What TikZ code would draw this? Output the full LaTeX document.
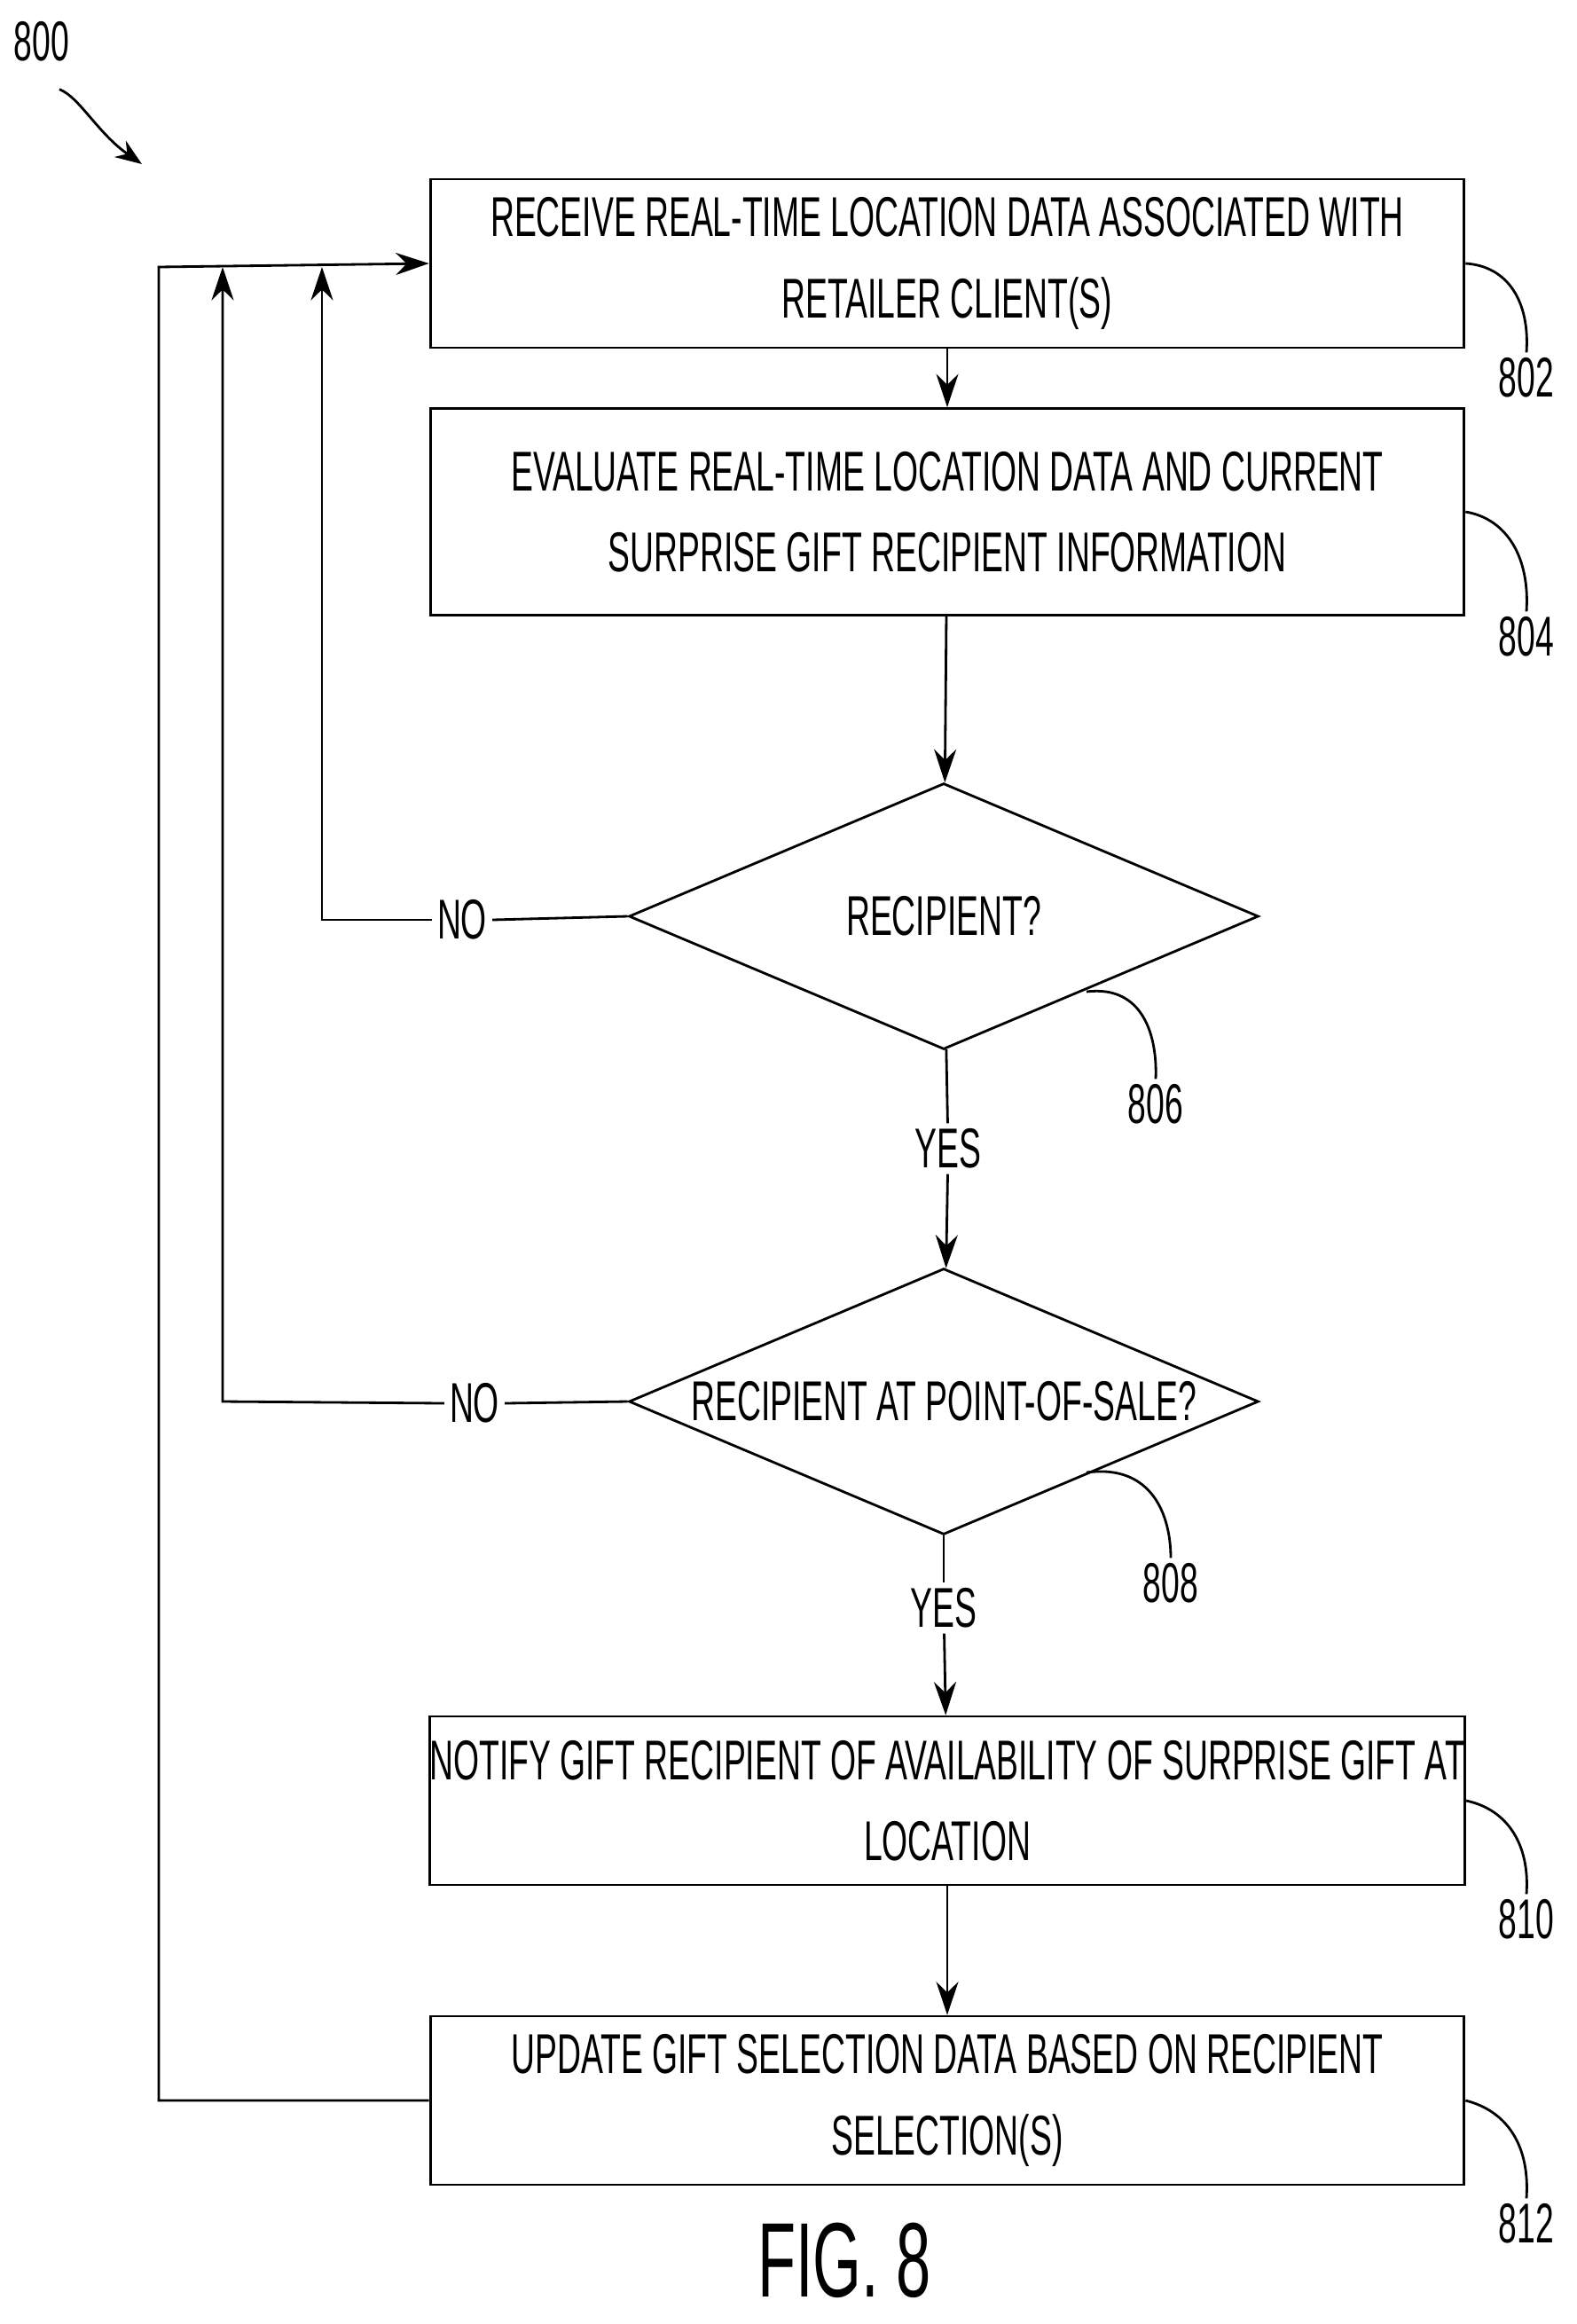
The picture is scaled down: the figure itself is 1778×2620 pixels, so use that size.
\documentclass[tikz,border=0pt]{standalone}
\usepackage{fontspec}
\setmainfont{Liberation Sans}[FakeStretch=0.59]
\usetikzlibrary{arrows.meta,shapes.geometric}
\tikzset{
  process/.style={draw, line width=1.6pt, minimum width=23.32cm, minimum height=3.8cm, inner xsep=0pt, align=center, font=\fontsize{36}{52}\selectfont},
  decision/.style={draw, line width=1.6pt, diamond, aspect=2.37, minimum width=14.2cm, minimum height=6cm, inner sep=0pt, font=\fontsize{36}{52}\selectfont},
  lbl/.style={font=\fontsize{36}{44}\selectfont},
  flow/.style={line width=1.6pt, -{Stealth[length=0.75cm, width=0.5cm]}},
  lead/.style={line width=1.6pt}
}
\begin{document}
\begin{tikzpicture}[x=0.02cm, y=-0.02cm]
        \useasboundingbox (0,0) rectangle (1778,2620);

        \node (fig) [lbl] at (47,47) {800};
        \node (receive) [process] at (1068,297) {RECEIVE REAL-TIME LOCATION DATA ASSOCIATED WITH\\RETAILER CLIENT(S)};
        \node (evaluate) [process, minimum height=4.66cm] at (1068,577) {EVALUATE REAL-TIME LOCATION DATA AND CURRENT\\SURPRISE GIFT RECIPIENT INFORMATION};
        \node (recipient) [decision] at (1064,1033) {RECIPIENT?};
        \node (pos) [decision] at (1064,1580) {\makebox[0pt]{RECIPIENT AT POINT-OF-SALE?}};
        \node (notify) [process] at (1068,2030) {NOTIFY GIFT RECIPIENT OF AVAILABILITY OF SURPRISE GIFT AT\\LOCATION};
        \node (update) [process] at (1068,2368) {UPDATE GIFT SELECTION DATA BASED ON RECIPIENT\\SELECTION(S)};

        \node (yes1) [lbl, fill=white] at (1069,1295) {YES};
        \node (yes2) [lbl, fill=white] at (1064,1813) {YES};
        \node (no1) [lbl] at (521,1037) {NO};
        \node (no2) [lbl] at (535,1582) {NO};
        \node (title) [font=\fontsize{68}{76}\selectfont] at (952,2548) {FIG. 8};

        % reference numerals
        \node (r802) [lbl] at (1721,426) {802};
        \node (r804) [lbl] at (1721,718) {804};
        \node (r806) [lbl] at (1303,1245) {806};
        \node (r808) [lbl] at (1320,1785) {808};
        \node (r810) [lbl] at (1721,2164) {810};
        \node (r812) [lbl] at (1721,2507) {812};

        \coordinate (top1) at (179,301);
        \coordinate (top2) at (251,301);
        \coordinate (top3) at (363,301);
        \coordinate (bot1) at (179,2368);
        \coordinate (left1) at (363,1037);
        \coordinate (left2) at (251,1580);

        \draw [flow] (receive) -- (evaluate);
        \draw [flow] (evaluate) -- (recipient);
        \draw [lead] (recipient) -- (yes1);
        \draw [flow] (yes1) -- (pos);
        \draw [lead] (pos) -- (yes2);
        \draw [flow] (yes2) -- (notify);
        \draw [flow] (notify) -- (update);

        \draw [lead] (recipient.west) -- (no1.east);
        \draw [flow] (no1.west) -- (left1) -- (top3);
        \draw [lead] (pos.west) -- (no2.east);
        \draw [flow] (no2.west) -- (left2) -- (top2);
        \draw [flow] (update.west) -- (bot1) -- (top1) -- (receive.west);

        \draw [lead, -{Stealth[length=0.6cm, width=0.45cm]}] (fig.south) ++(20,25) .. controls (90,110) and (110,150) .. (160,185);
        \draw [lead] (receive.east) .. controls (1700,300) and (1725,340) .. (r802.north);
        \draw [lead] (evaluate.east) .. controls (1700,585) and (1725,630) .. (r804.north);
        \draw [lead] (1225,1118) .. controls (1290,1110) and (1305,1170) .. (r806.north);
        \draw [lead] (1225,1660) .. controls (1300,1650) and (1320,1710) .. (r808.north);
        \draw [lead] (notify.east) .. controls (1700,2040) and (1725,2080) .. (r810.north);
        \draw [lead] (update.east) .. controls (1700,2380) and (1725,2420) .. (r812.north);
    \end{tikzpicture}
\end{document}
